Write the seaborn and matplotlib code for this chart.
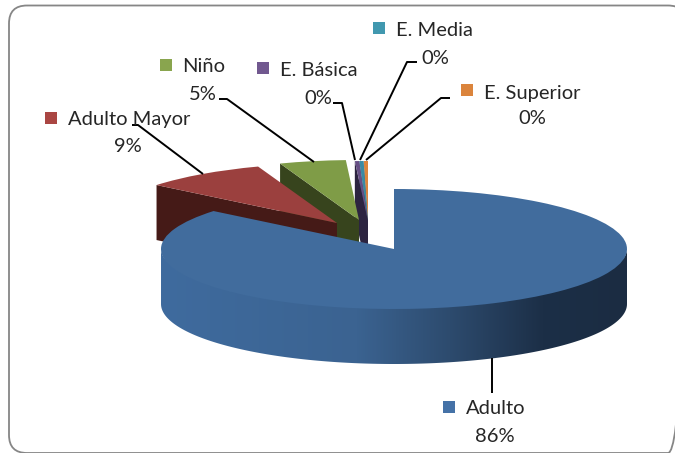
import numpy as np
import seaborn as sns
import matplotlib.pyplot as plt
from matplotlib.colors import LinearSegmentedColormap
from matplotlib.patches import FancyBboxPatch, Polygon

# ==========================================
# Data
# ==========================================
categories = ["Adulto", "Adulto Mayor", "Niño", "E. Básica", "E. Media", "E. Superior"]
values = [85.9, 8.6, 4.6, 0.3, 0.3, 0.3]

# ==========================================
# Styles and layout (pixels of the 675x453 picture)
# ==========================================
top_colors = ["#416C9D", "#9B403E", "#7F9C47", "#674F85", "#3A8AA3", "#DB843C"]
wall_colors = ["#2A4666", "#451A17", "#37441D", "#2C2440", "#1A3E4C", "#5E3A18"]
key_colors = ["#4572A7", "#AA4643", "#89A54E", "#71588F", "#4198AF", "#DB843C"]
apex_px = [(394, 249), (337, 223), (359, 220), (368, 221), (368, 221), (368, 221)]
draw_order = [5, 4, 3, 2, 1, 0]

CX, CY, RX, RY, DEPTH = 394, 249, 233, 60, 55

key_px = [(443, 401), (45, 112), (160, 59), (257, 62), (373, 22), (461, 84)]
name_px = [(466, 409), (68, 119), (182, 67), (280, 70), (396, 30), (484, 93)]
pct_px = [(495, 437), (128, 147), (203, 95), (318, 98), (435, 58), (532, 119)]
leaders_px = [
	[(492, 358), (492, 393)],
	[(132, 125), (138, 125), (203, 174)],
	[(219, 99), (227, 99), (314, 162)],
	[(333, 103), (342, 103), (355, 160)],
	[(417, 62), (407, 62), (360, 160)],
	[(450, 98), (441, 98), (366, 160)],
]

sns.set_theme(style="white")
plt.rcParams["font.family"] = ["Lato", "DejaVu Sans"]

fig = plt.figure(figsize=(6.75, 4.53), dpi=100, facecolor="white")

# --- Pie axes: data units are the unit circle squashed to the ellipse ---
ax = fig.add_axes([0, 0, 1, 1])
palette = sns.color_palette(top_colors)
wedges, _ = ax.pie(values, colors=palette, startangle=90, counterclock=False, radius=1)
ax.set_aspect("auto")
xlim = ((0 - CX) / RX, (675 - CX) / RX)
ylim = ((CY - 453) / RY, CY / RY)
depth = DEPTH / RY

for i in draw_order:
	w = wedges[i]
	c = ((apex_px[i][0] - CX) / RX, (CY - apex_px[i][1]) / RY)
	w.set_center(c)
	base_z = 2 * draw_order.index(i) + 2
	w.set_zorder(base_z + 1)
	w.set_linewidth(0)
	if i == 0:
		continue
	# radial face towards the viewer
	t = np.deg2rad(w.theta2)
	corner = (c[0] + np.cos(t), c[1] + np.sin(t))
	face = Polygon([c, corner, (corner[0], corner[1] - depth), (c[0], c[1] - depth)],
		closed=True, facecolor=wall_colors[i], edgecolor="none", zorder=base_z)
	ax.add_patch(face)

# --- Front wall of the big slice, shaded from left to right ---
arc = np.deg2rad(np.arange(180, 361, 1))
arc_x, arc_y = np.cos(arc), np.sin(arc)
# top edge sits a little inside the ellipse so no seam shows under the top face
wall = np.column_stack([
	np.concatenate([arc_x, arc_x[::-1]]),
	np.concatenate([arc_y - depth, arc_y[::-1] * 0.9]),
])
shade = LinearSegmentedColormap.from_list("wall", [
	(0.0, "#3F6B9E"), (0.42, "#3B6391"), (0.62, "#2D4B6E"),
	(0.82, "#1C2F47"), (1.0, "#1B2C42"),
])
wall_patch = Polygon(wall, closed=True, facecolor="none", edgecolor="none", transform=ax.transData)
ax.add_patch(wall_patch)
wall_img = ax.imshow(np.linspace(0, 1, 256)[None, :], cmap=shade, extent=(-1, 1, -2, 0.2),
	aspect="auto", zorder=wedges[0].get_zorder() - 1)
wall_img.set_clip_path(wall_patch)

ax.set_xlim(xlim)
ax.set_ylim(ylim)
ax.axis("off")

# --- Overlay in picture pixels: frame, leaders, labels ---
ov = fig.add_axes([0, 0, 1, 1], facecolor="none")
ov.set_xlim(0, 675)
ov.set_ylim(453, 0)
ov.axis("off")

frame = FancyBboxPatch((9, 5.5), 677, 447.5, boxstyle="round,pad=0,rounding_size=18",
	facecolor="none", edgecolor="#868686", linewidth=1.3)
ov.add_patch(frame)

text_color = "#262626"
for i, name in enumerate(categories):
	xs, ys = zip(*leaders_px[i])
	ov.plot(xs, ys, color="black", lw=1.4, solid_capstyle="butt", zorder=3)
	kx, ky = key_px[i]
	ov.add_patch(plt.Rectangle((kx, ky), 12, 12, facecolor=key_colors[i], edgecolor="none", zorder=4))
	ov.text(name_px[i][0], name_px[i][1], name, fontsize=14.5, color=text_color,
		ha="left", va="center", zorder=5)
	ov.text(pct_px[i][0], pct_px[i][1], f"{values[i]:.0f}%", fontsize=14.5, color=text_color,
		ha="center", va="center", zorder=5)

fig.savefig("out.png", dpi=100)
